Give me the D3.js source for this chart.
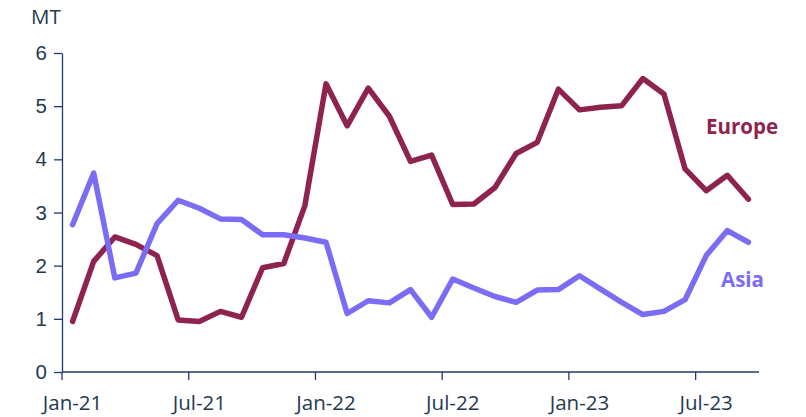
<!DOCTYPE html>
<html>
<head>
<meta charset="utf-8">
<script src="https://cdn.jsdelivr.net/npm/d3@7"></script>
<style>
  body { margin: 0; background: #fff; }
  svg { display: block; font-family: "Segoe UI", "Open Sans", sans-serif; }
</style>
</head>
<body>
<svg></svg>
<script>
// Monthly volumes, Jan-21 to Sep-23
const months = d3.timeMonths(new Date(2021, 0, 1), new Date(2023, 9, 1));
const europe = [0.95, 2.08, 2.54, 2.40, 2.19, 0.98, 0.95, 1.14, 1.03, 1.96, 2.04, 3.13,
                5.42, 4.63, 5.34, 4.81, 3.96, 4.08, 3.15, 3.16, 3.47, 4.11, 4.32, 5.32,
                4.93, 4.98, 5.01, 5.52, 5.23, 3.82, 3.41, 3.70, 3.25];
const asia = [2.77, 3.74, 1.77, 1.86, 2.79, 3.23, 3.08, 2.88, 2.87, 2.58, 2.58, 2.52,
              2.44, 1.10, 1.34, 1.30, 1.55, 1.03, 1.75, 1.58, 1.42, 1.31, 1.54, 1.55,
              1.81, 1.56, 1.31, 1.08, 1.14, 1.36, 2.19, 2.66, 2.44];
const yTicks = [0, 1, 2, 3, 4, 5, 6];
const xTickLabels = ["Jan-21", "Jul-21", "Jan-22", "Jul-22", "Jan-23", "Jul-23"];

const width = 806;
const height = 417;
const marginLeft = 62;
const marginRight = 47;
const marginTop = 53;
const marginBottom = 45;
const fontSize = 20.5;

const axisColor = "#1f3a6e";
const textColor = "#253a50";
const europeColor = "#8e234f";
const asiaColor = "#7b6cf6";

const x = d3.scaleBand(months, [marginLeft, width - marginRight]).padding(0);
const y = d3.scaleLinear([0, 6], [height - marginBottom, marginTop]);

const svg = d3.select("svg")
    .attr("width", width)
    .attr("height", height)
    .attr("viewBox", [0, 0, width, height]);

// y axis
svg.append("g")
    .attr("transform", `translate(${marginLeft},0)`)
    .call(d3.axisLeft(y).tickValues(yTicks).tickFormat(d3.format("d"))
        .tickSize(8).tickSizeOuter(0).tickPadding(7))
    .call(g => g.selectAll("line, path").attr("stroke", axisColor).attr("stroke-width", 1.3))
    .call(g => g.selectAll("text").attr("fill", textColor).style("font-size", fontSize + "px"));

svg.append("text")
    .attr("x", 31)
    .attr("y", 24)
    .attr("fill", textColor)
    .style("font-size", fontSize + "px")
    .text("MT");

// x axis: ticks at month boundaries, labels centred on the month
const tickMonths = months.filter((d, i) => i % 6 === 0);
const gx = svg.append("g").attr("transform", `translate(0,${y(0)})`);
gx.append("line")
    .attr("x1", marginLeft)
    .attr("x2", width - marginRight)
    .attr("stroke", axisColor)
    .attr("stroke-width", 1.3);
gx.selectAll(".tick")
    .data(tickMonths)
    .join("line")
    .attr("x1", d => x(d))
    .attr("x2", d => x(d))
    .attr("y2", 8)
    .attr("stroke", axisColor)
    .attr("stroke-width", 1.3);
gx.selectAll("text")
    .data(tickMonths)
    .join("text")
    .attr("x", d => x(d) + x.bandwidth() / 2)
    .attr("y", 38)
    .attr("text-anchor", "middle")
    .attr("fill", textColor)
    .style("font-size", fontSize + "px")
    .text((d, i) => xTickLabels[i]);

// lines
const line = d3.line()
    .x((d, i) => x(months[i]) + x.bandwidth() / 2)
    .y(d => y(d));

svg.append("path")
    .attr("fill", "none")
    .attr("stroke", europeColor)
    .attr("stroke-width", 5.5)
    .attr("stroke-linejoin", "round")
    .attr("stroke-linecap", "round")
    .attr("d", line(europe));

svg.append("path")
    .attr("fill", "none")
    .attr("stroke", asiaColor)
    .attr("stroke-width", 5.5)
    .attr("stroke-linejoin", "round")
    .attr("stroke-linecap", "round")
    .attr("d", line(asia));

// series labels
svg.append("text")
    .attr("x", 706)
    .attr("y", 134)
    .attr("fill", europeColor)
    .style("font-size", fontSize + "px")
    .attr("font-weight", "bold")
    .text("Europe");

svg.append("text")
    .attr("x", 721)
    .attr("y", 287)
    .attr("fill", asiaColor)
    .style("font-size", fontSize + "px")
    .attr("font-weight", "bold")
    .text("Asia");
</script>
</body>
</html>
